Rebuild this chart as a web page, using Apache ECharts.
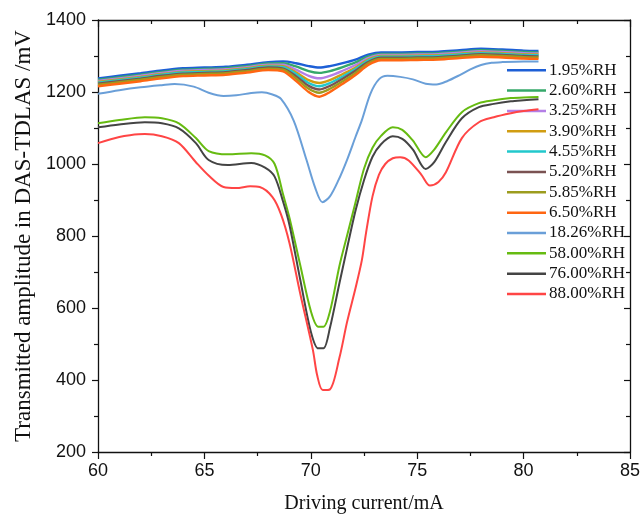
<!DOCTYPE html>
<html>
<head>
<meta charset="utf-8">
<script src="https://cdn.jsdelivr.net/npm/echarts@6/dist/echarts.min.js"></script>
<style>html,body{margin:0;padding:0;background:#fff}#c{width:643px;height:522px}</style>
</head>
<body>
<div id="c"></div>
<script>
// Tick settings
const xMin = 60, xMax = 85, xStep = 5;
const yMin = 200, yMax = 1400, yStep = 200;

// Legend names
const names = ['1.95%RH','2.60%RH','3.25%RH','3.90%RH','4.55%RH','5.20%RH','5.85%RH','6.50%RH','18.26%RH','58.00%RH','76.00%RH','88.00%RH'];
const colors = ['#1d5fd6','#35a86a','#b47fe6','#d19d12','#22c8cc','#7a5252','#9c9c1e','#ff6612','#6a9fd8','#66bb11','#444444','#ff4545'];

// Low-humidity cluster
const xCluster = [60,61,62,63,64,65,66,67,68,68.7,69.3,69.9,70.4,70.9,71.5,72.1,72.7,73.3,74,75,76,77,78,79,80,80.7];
const rh195 = [1238,1245,1252,1260,1266,1268,1270,1276,1283,1285,1280,1272,1268,1272,1280,1290,1304,1310,1310,1311,1312,1316,1320,1318,1315,1314];
const rh260 = [1234,1241,1248,1256,1262,1264,1266,1272,1279,1280,1271,1258,1253,1258,1269,1282,1299,1306,1306,1307,1308,1312,1316,1314,1311,1310];
const rh325 = [1231,1238,1245,1253,1259,1261,1263,1269,1276,1276,1262,1245,1238,1245,1259,1275,1294,1303,1303,1304,1305,1309,1313,1311,1308,1307];
const rh390 = [1228,1235,1242,1250,1256,1258,1260,1266,1273,1272,1255,1233,1225,1233,1250,1268,1290,1300,1300,1301,1302,1306,1310,1308,1305,1304];
const rh455 = [1226,1233,1240,1248,1254,1256,1258,1264,1271,1269,1250,1225,1216,1225,1243,1264,1287,1298,1298,1299,1300,1304,1308,1306,1303,1302];
const rh520 = [1223,1230,1237,1245,1251,1253,1255,1261,1268,1265,1244,1217,1207,1217,1237,1259,1283,1295,1295,1296,1297,1301,1305,1303,1300,1299];
const rh585 = [1220,1227,1234,1242,1248,1250,1252,1258,1265,1262,1238,1209,1198,1209,1230,1253,1280,1292,1292,1293,1294,1298,1302,1300,1297,1296];
const rh650 = [1216,1223,1230,1238,1244,1246,1248,1254,1261,1257,1231,1200,1187,1200,1223,1247,1275,1288,1288,1289,1290,1294,1298,1296,1293,1292];

// 18.26%RH
const x1826 = [60,61,62,63,63.6,64.5,65.2,65.9,66.5,67.2,67.7,68.2,68.6,69.2,69.8,70.2,70.55,70.9,71.3,71.7,72.1,72.4,72.8,73.2,73.6,74.2,74.8,75.4,75.9,76.4,77,77.5,78,78.5,79,80,80.7];
const rh1826 = [1195,1205,1213,1219,1222,1215,1198,1189,1191,1197,1199,1193,1181,1120,1011,935,894,910,955,1011,1075,1122,1195,1235,1245,1242,1235,1223,1221,1230,1247,1263,1275,1281,1283,1285,1285];

// 58% and 76%
const xHigh = [60,61,62.2,63,63.8,64.6,65.2,66.1,67.2,67.85,68.3,68.7,69,69.5,70,70.35,70.6,70.9,71.35,71.7,72.1,72.5,72.9,73.3,73.85,74.3,74.8,75.4,75.8,76.35,77.1,77.9,78.6,79.4,80,80.7];
const rh5800 = [1113,1122,1130,1127,1113,1072,1036,1027,1030,1024,1000,915,850,720,592,548,548,590,718,800,893,987,1045,1078,1102,1095,1065,1019,1040,1088,1144,1169,1177,1183,1185,1186];
const rh7600 = [1102,1110,1116,1113,1099,1058,1011,997,1003,990,965,895,830,680,535,488,488,545,670,765,870,955,1020,1055,1077,1070,1040,986,1005,1061,1127,1158,1167,1174,1177,1180];

// 88%
const x8800 = [60,61,61.5,62.2,63,63.8,64.6,65.2,65.9,66.5,67.15,67.6,68.2,68.6,69,69.5,70.1,70.3,70.56,70.9,71.35,71.7,72.1,72.4,72.6,72.9,73.2,73.5,73.85,74.2,74.6,75.2,75.6,76,76.35,77.1,77.9,78.6,79.4,80,80.7];
const rh8800 = [1058,1075,1080,1083,1077,1058,1005,968,936,933,938,936,908,860,780,641,483,413,372,374,463,560,655,733,810,910,970,1000,1016,1019,1010,970,940,950,977,1072,1116,1130,1141,1147,1152];

const seriesX = [xCluster,xCluster,xCluster,xCluster,xCluster,xCluster,xCluster,xCluster,x1826,xHigh,xHigh,x8800];
const seriesY = [rh195,rh260,rh325,rh390,rh455,rh520,rh585,rh650,rh1826,rh5800,rh7600,rh8800];

const serif = '"Liberation Serif","Times New Roman",serif';
const sans = '"Liberation Sans",Arial,sans-serif';

const series = names.map((n,i)=>({
  name: n,
  type: 'line',
  xAxisIndex: 0, yAxisIndex: 0,
  data: seriesX[i].map((x,j)=>[x, seriesY[i][j]]),
  showSymbol: false,
  smooth: 0.3,
  lineStyle: {width: i < 8 ? 2.4 : 2, color: colors[i]},
  itemStyle: {color: colors[i]},
  z: 2 + i
}));

const chart = echarts.init(document.getElementById('c'), null, {renderer:'canvas'});
chart.setOption({
  animation: false,
  backgroundColor: '#fff',
  grid: {left: 98, right: 11, top: 20, bottom: 70, containLabel: false},
  legend: {
    orient: 'vertical',
    left: 507, top: 60, padding: 0,
    itemWidth: 39, itemHeight: 2.5, itemGap: 0,
    icon: 'rect',
    selectedMode: false,
    textStyle: {fontFamily: serif, fontSize: 17, color: '#111', lineHeight: 20.35, padding: [0,0,0,-2]},
    data: names
  },
  xAxis: [{
    type: 'value', min: xMin, max: xMax, interval: xStep, position: 'bottom',
    name: 'Driving current/mA', nameLocation: 'middle', nameGap: 42,
    nameTextStyle: {fontFamily: serif, fontSize: 20, color: '#111'},
    axisLine: {show: true, onZero: false, lineStyle: {color: '#111', width: 1.3}},
    axisTick: {show: true, inside: false, length: 7, lineStyle: {color: '#111', width: 1.2}},
    minorTick: {show: true, splitNumber: 2, length: 4, lineStyle: {color: '#111', width: 1.2}},
    axisLabel: {fontFamily: sans, fontSize: 18, color: '#111', margin: 10},
    splitLine: {show: false}
  },{
    type: 'value', min: xMin, max: xMax, interval: xStep, position: 'top',
    axisLine: {show: true, onZero: false, lineStyle: {color: '#111', width: 1.3}},
    axisTick: {show: true, inside: true, length: 7, lineStyle: {color: '#111', width: 1.2}},
    minorTick: {show: true, splitNumber: 2, length: 4, lineStyle: {color: '#111', width: 1.2}},
    axisLabel: {show: false},
    splitLine: {show: false}
  }],
  yAxis: [{
    type: 'value', min: yMin, max: yMax, interval: yStep, position: 'left',
    name: 'Transmitted amplitude in DAS-TDLAS /mV', nameLocation: 'middle', nameGap: 62,
    nameTextStyle: {fontFamily: serif, fontSize: 23, color: '#111'},
    axisLine: {show: true, onZero: false, lineStyle: {color: '#111', width: 1.3}},
    axisTick: {show: true, inside: false, length: 6, lineStyle: {color: '#111', width: 1.2}},
    minorTick: {show: true, splitNumber: 2, length: 4, lineStyle: {color: '#111', width: 1.2}},
    axisLabel: {fontFamily: sans, fontSize: 18, color: '#111', margin: 12, formatter: v => String(v)},
    splitLine: {show: false}
  },{
    type: 'value', min: yMin, max: yMax, interval: yStep, position: 'right',
    axisLine: {show: true, onZero: false, lineStyle: {color: '#111', width: 1.3}},
    axisTick: {show: true, inside: true, length: 6, lineStyle: {color: '#111', width: 1.2}},
    minorTick: {show: true, splitNumber: 2, length: 4, lineStyle: {color: '#111', width: 1.2}},
    axisLabel: {show: false},
    splitLine: {show: false}
  }],
  series: series
});
</script>
</body>
</html>
